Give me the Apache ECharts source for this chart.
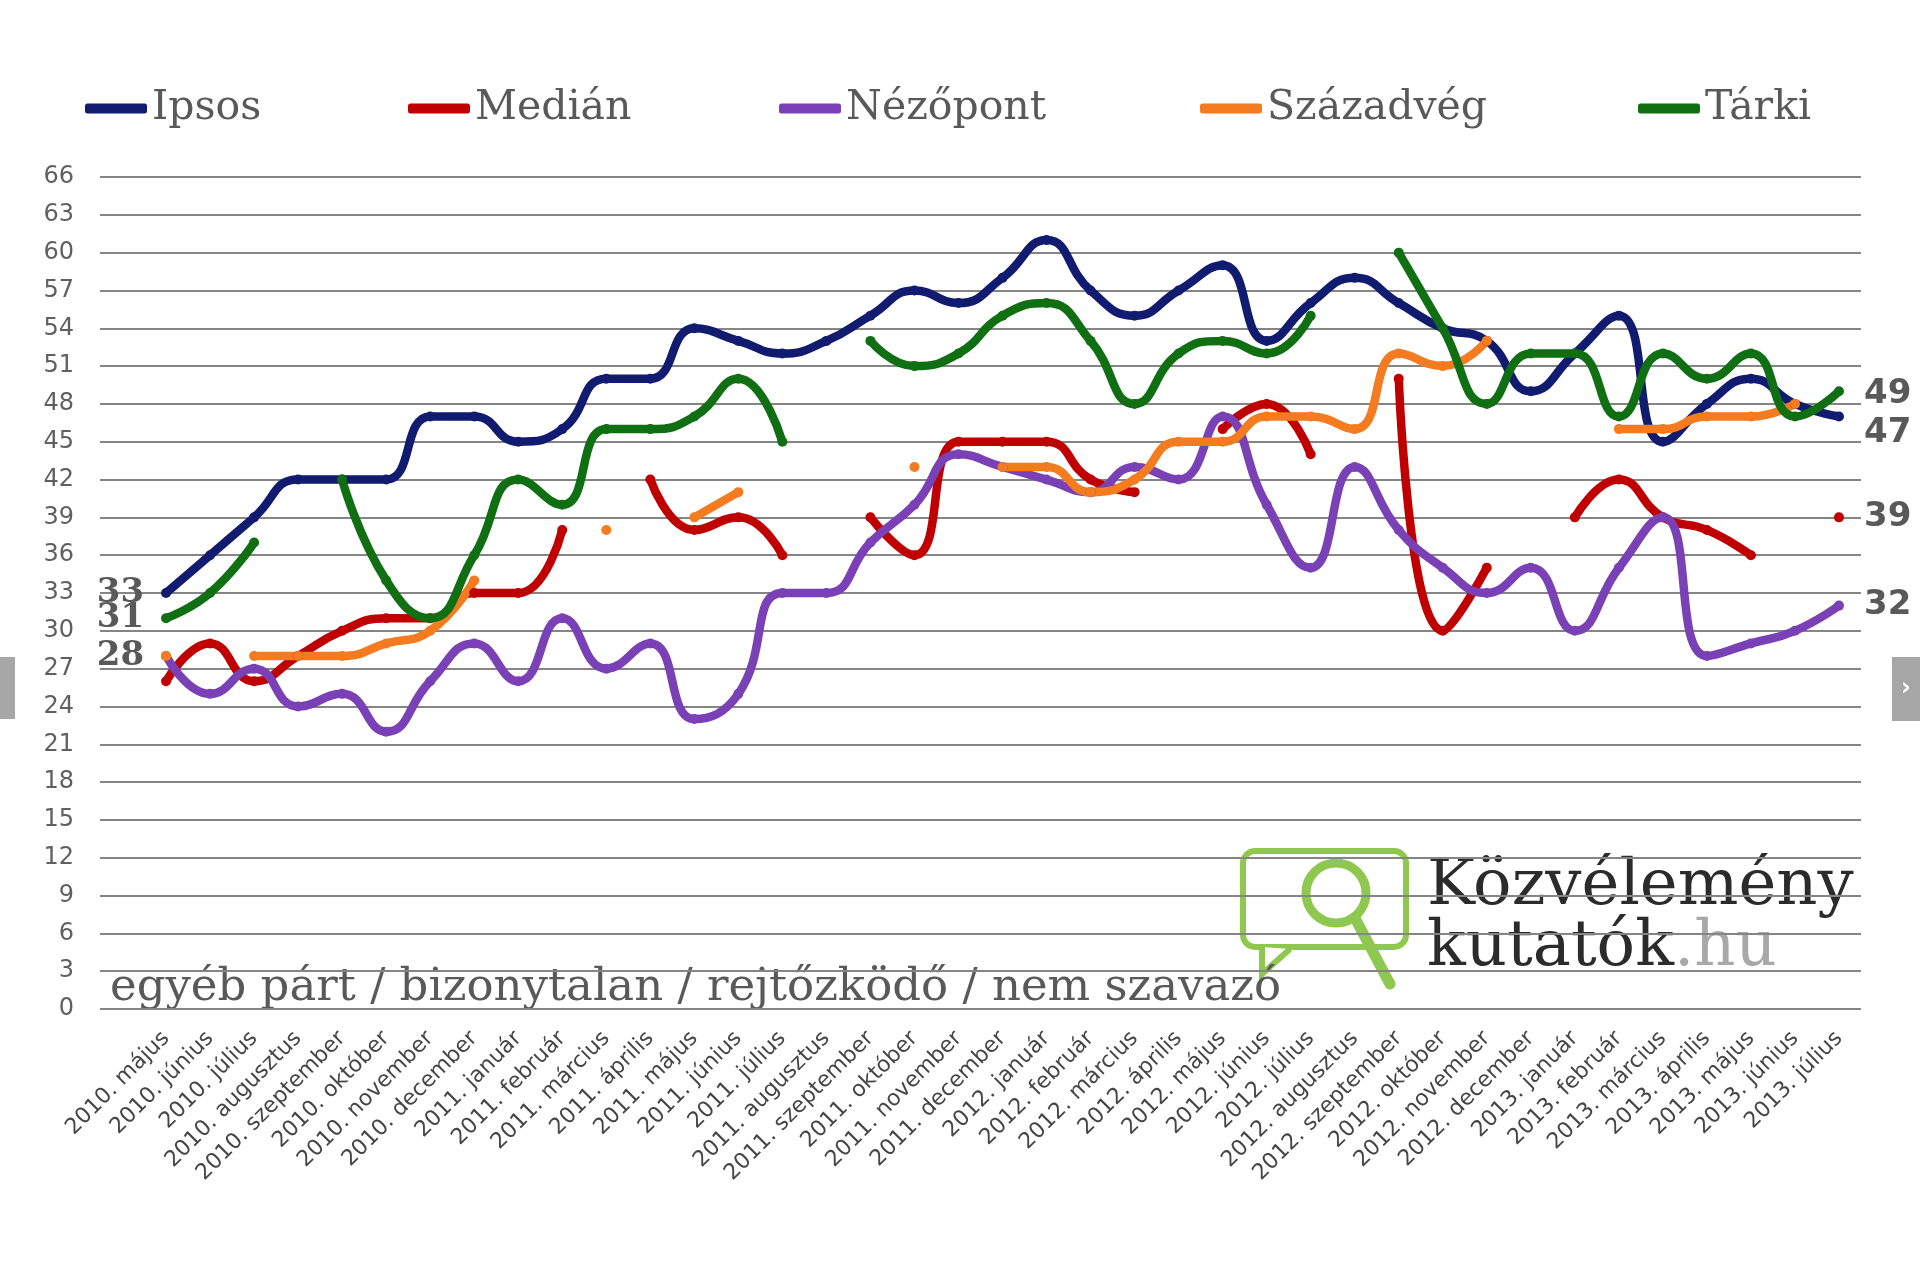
<!DOCTYPE html>
<html>
<head>
<meta charset="utf-8">
<script src="https://cdn.jsdelivr.net/npm/echarts@6/dist/echarts.min.js"></script>
<style>
  html, body { margin: 0; padding: 0; background: #fff; }
  #chart { width: 1920px; height: 1277px; }
</style>
</head>
<body>
<div id="chart"></div>
<script>
// hónapok 2010. május - 2013. július
const months = [
  '2010. május', '2010. június', '2010. július', '2010. augusztus', '2010. szeptember',
  '2010. október', '2010. november', '2010. december',
  '2011. január', '2011. február', '2011. március', '2011. április', '2011. május',
  '2011. június', '2011. július', '2011. augusztus', '2011. szeptember', '2011. október',
  '2011. november', '2011. december',
  '2012. január', '2012. február', '2012. március', '2012. április', '2012. május',
  '2012. június', '2012. július', '2012. augusztus', '2012. szeptember', '2012. október',
  '2012. november', '2012. december',
  '2013. január', '2013. február', '2013. március', '2013. április', '2013. május',
  '2013. június', '2013. július'
]

const ipsos = [33, 36, 39, 42, 42, 42, 47, 47, 45, 46, 50, 50, 54, 53, 52, 53, 55, 57, 56, 58,
  61, 57, 55, 57, 59, 53, 56, 58, 56, 54, 53, 49, 52, 55, 45, 48, 50, 48, 47]
const median = [26, 29, 26, 28, 30, 31, 31, 33, 33, 38, null, 42, 38, 39, 36, null, 39, 36, 45, 45,
  45, 42, 41, null, 46, 48, 44, null, 50, 30, 35, null, 39, 42, 39, 38, 36, null, 39]
const nezopont = [28, 25, 27, 24, 25, 22, 26, 29, 26, 31, 27, 29, 23, 25, 33, 33, 37, 40, 44, 43,
  42, 41, 43, 42, 47, 40, 35, 43, 38, 35, 33, 35, 30, 35, 39, 28, 29, 30, 32]
const szazadveg = [28, null, 28, 28, 28, 29, 30, 34, null, null, 38, null, 39, 41, null, null, null, 43, null, 43,
  43, 41, 42, 45, 45, 47, 47, 46, 52, 51, 53, null, null, 46, 46, 47, 47, 48, null]
const tarki = [31, 33, 37, null, 42, 34, 31, 36, 42, 40, 46, 46, 47, 50, 45, null, 53, 51, 52, 55,
  56, 53, 48, 52, 53, 52, 55, null, 60, 54, 48, 52, 52, 47, 52, 50, 52, 47, 49]

const names = ['Ipsos', 'Medián', 'Nézőpont', 'Századvég', 'Tárki']
const colors = ['#111c70', '#c00000', '#7a40b5', '#f47b20', '#0f6f12']
const legendLeft = [85, 408, 779, 1200, 1638]

const chart = echarts.init(document.getElementById('chart'))

const leftLabel = {
  show: true, position: 'left', distance: 17,
  fontFamily: 'DejaVu Serif', fontWeight: 'bold', fontSize: 34, color: '#595959'
}
const rightLabel = {
  show: true, position: 'right', distance: 20,
  fontFamily: 'DejaVu Sans', fontWeight: 'bold', fontSize: 34, color: '#595959'
}

// az első üres kategória csak helyet tart a rács bal szélén
function build(vals, first, last, lastOffset) {
  const last_i = vals.length - 1
  const data = vals.map((v, i) => {
    if (i === 0 && first && v != null) return {value: v, label: leftLabel}
    if (i === last_i && last && v != null) {
      return {value: v, label: Object.assign({}, rightLabel, {offset: [0, lastOffset || 0]})}
    }
    return v
  })
  return [null].concat(data)
}

const seriesVals = [
  build(ipsos, true, true, 17),
  build(median, false, true),
  build(nezopont, false, true),
  build(szazadveg, true, false),
  build(tarki, true, true, 3)
]

const option = {
  backgroundColor: '#ffffff',
  animation: false,
  color: colors,
  legend: names.map((n, k) => ({
    data: [n],
    left: legendLeft[k],
    top: 88,
    padding: 0,
    icon: 'roundRect',
    itemWidth: 62,
    itemHeight: 10,
    textStyle: {fontFamily: 'DejaVu Serif', fontSize: 41, color: '#595959'}
  })),
  grid: {left: 100, right: 59, top: 177, bottom: 268},
  xAxis: {
    type: 'category',
    data: [''].concat(months),
    boundaryGap: true,
    axisLine: {show: false},
    axisTick: {show: false},
    axisLabel: {
      interval: 0, rotate: 45, margin: 26,
      fontFamily: 'DejaVu Sans', fontSize: 22, color: '#454545'
    }
  },
  yAxis: {
    type: 'value',
    min: 0, max: 66, interval: 3,
    axisLine: {show: false},
    axisTick: {show: false},
    axisLabel: {margin: 26, fontFamily: 'DejaVu Sans', fontSize: 24, color: '#606060'},
    splitLine: {lineStyle: {color: '#858585', width: 2}}
  },
  series: names.map((n, k) => ({
    name: n,
    type: 'line',
    smooth: 0.5,
    connectNulls: false,
    symbol: 'circle',
    symbolSize: 10,
    showSymbol: true,
    lineStyle: {width: 8.5, color: colors[k]},
    itemStyle: {color: colors[k]},
    data: seriesVals[k]
  })),
  graphic: [
    // logó
    {type: 'rect', z: -1, shape: {x: 1243, y: 851, width: 163, height: 96, r: 12},
      style: {fill: 'none', stroke: '#8fc84f', lineWidth: 6}},
    {type: 'polyline', z: -1, shape: {points: [[1262, 947], [1262, 974], [1290, 949]]},
      style: {fill: '#fff', stroke: '#8fc84f', lineWidth: 6}},
    {type: 'circle', z: -1, shape: {cx: 1336, cy: 893, r: 30},
      style: {fill: 'none', stroke: '#8fc84f', lineWidth: 9}},
    {type: 'line', z: -1, shape: {x1: 1356, y1: 920, x2: 1390, y2: 984},
      style: {stroke: '#8fc84f', lineWidth: 11, lineCap: 'round'}},
    {type: 'text', z: -1, style: {x: 1427, y: 887, text: 'Közvélemény', verticalAlign: 'middle',
      font: '64px "DejaVu Serif"', fill: '#2b2b2b'}},
    {type: 'text', z: -1, style: {x: 1427, y: 948, text: '{a|kutatók}{b|.hu}', verticalAlign: 'middle',
      font: '64px "DejaVu Serif"', fill: '#2b2b2b',
      rich: {a: {font: '64px "DejaVu Serif"', fill: '#2b2b2b'}, b: {font: '64px "DejaVu Serif"', fill: '#a8a8a8'}}}},
    {type: 'text', style: {x: 110, y: 988, text: 'egyéb párt / bizonytalan / rejtőzködő / nem szavazó',
      verticalAlign: 'middle', font: '45px "DejaVu Serif"', fill: '#595959'}},
    // lapozó gombok
    {type: 'rect', shape: {x: 0, y: 657, width: 15, height: 62}, style: {fill: '#a6a6a6'}},
    {type: 'rect', shape: {x: 1892, y: 657, width: 28, height: 64}, style: {fill: '#a6a6a6'}},
    {type: 'text', style: {x: 1906, y: 689, text: '›', align: 'center', verticalAlign: 'middle',
      font: 'bold 24px "DejaVu Sans"', fill: '#ffffff'}}
  ]
}

chart.setOption(option)
</script>
</body>
</html>
